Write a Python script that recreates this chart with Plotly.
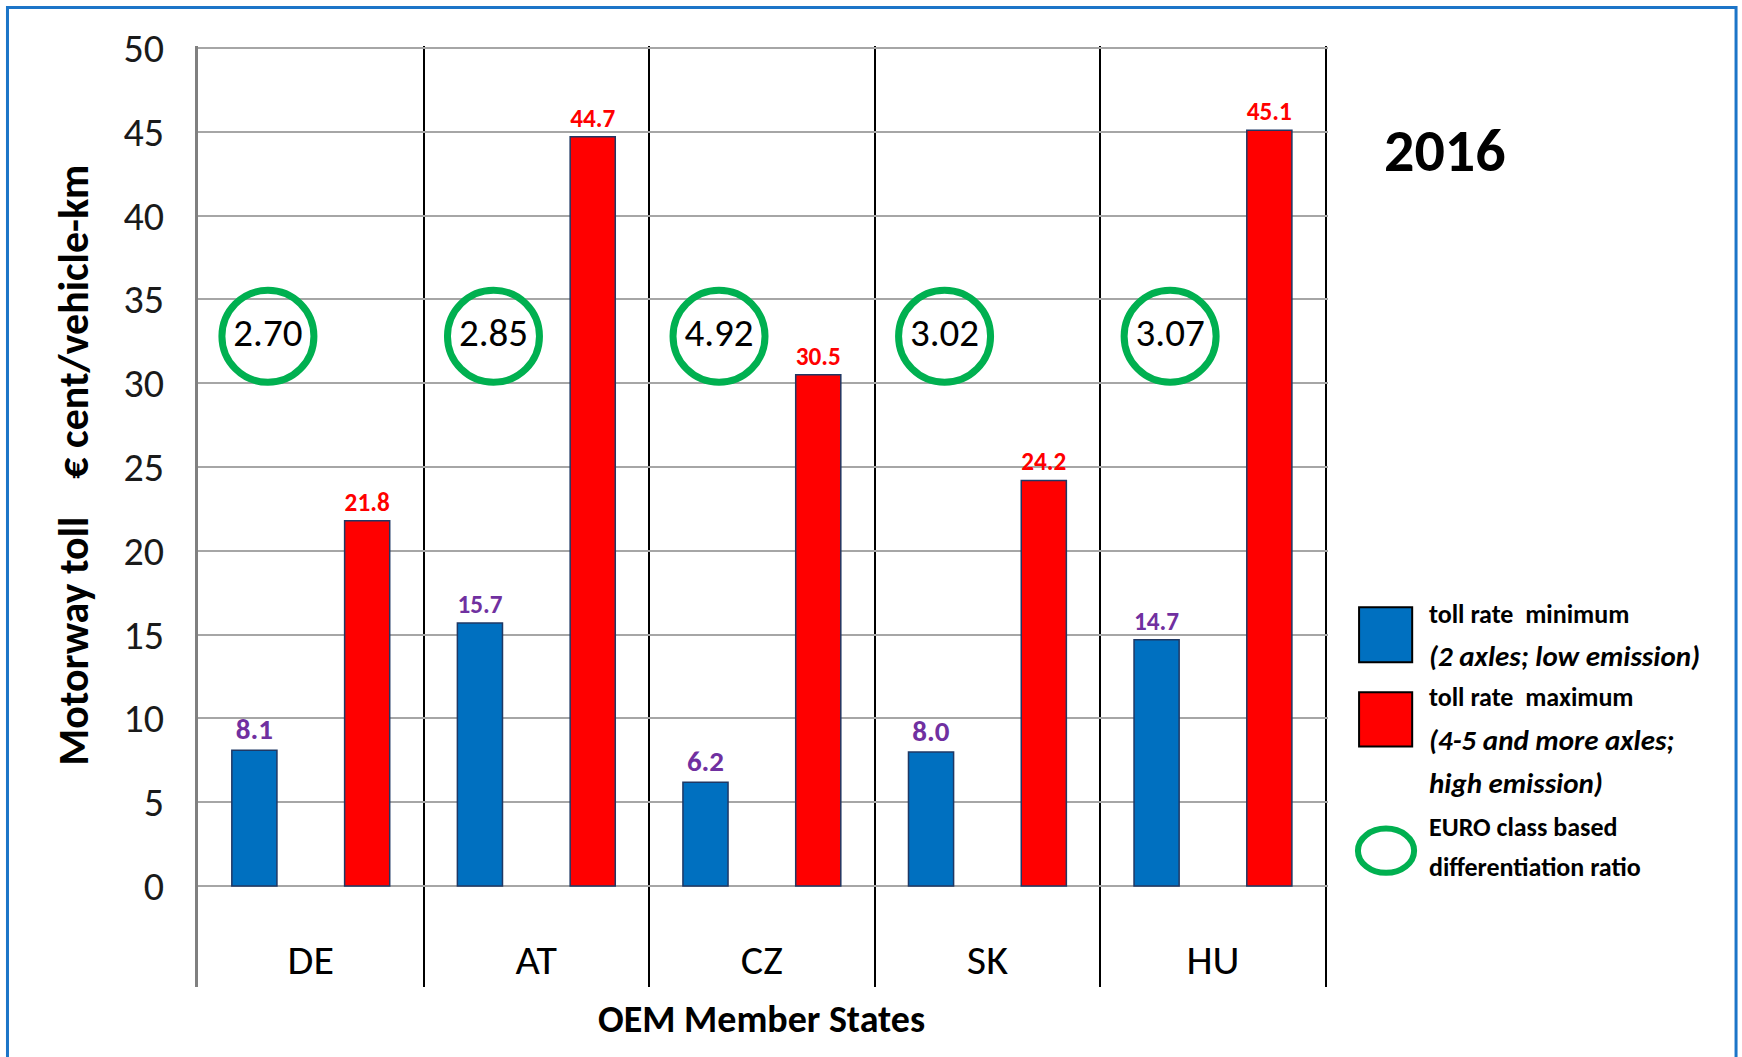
import plotly.graph_objects as go

# ---------------- data ----------------
categories = ["DE", "AT", "CZ", "SK", "HU"]
toll_min = [8.1, 15.7, 6.2, 8.0, 14.7]
toll_max = [21.8, 44.7, 30.5, 24.2, 45.1]
ratio_labels = ["2.70", "2.85", "4.92", "3.02", "3.07"]
y_ticks = [0, 5, 10, 15, 20, 25, 30, 35, 40, 45, 50]
year_label = "2016"
legend_lines = [
    "<b>toll rate  minimum</b>",
    "<b><i>(2 axles; low emission)</i></b>",
    "<b>toll rate  maximum</b>",
    "<b><i>(4-5 and more axles;</i></b>",
    "<b><i>high emission)</i></b>",
    "<b>EURO class based</b>",
    "<b>differentiation ratio</b>",
]

# ---------------- style ----------------
FONT = "Carlito, Calibri, Lato, 'Open Sans', sans-serif"
BLUE = "#0070C0"
RED = "#FF0000"
GREEN = "#00B050"
PURPLE = "#7030A0"
OUTLINE = "#1F3864"
RATIO_Y = 32.8          # vertical position of the ratio circles
RATIO_SHIFT = -0.19     # horizontal shift of the circles within a category

idx = list(range(len(categories)))

fig = go.Figure()
fig.add_trace(go.Bar(
    x=idx, y=toll_min, name="toll rate minimum",
    marker=dict(color=BLUE, line=dict(color=OUTLINE, width=1.5)),
    text=[f"{v:.1f}" for v in toll_min], textposition="outside",
    textfont=dict(family=FONT, size=29, color=PURPLE, weight="bold"),
    cliponaxis=False, showlegend=False,
))
fig.add_trace(go.Bar(
    x=idx, y=toll_max, name="toll rate maximum",
    marker=dict(color=RED, line=dict(color=OUTLINE, width=1.5)),
    text=[f"{v:.1f}" for v in toll_max], textposition="outside",
    textfont=dict(family=FONT, size=29, color=RED, weight="bold"),
    cliponaxis=False, showlegend=False,
))
fig.add_trace(go.Scatter(
    x=[i + RATIO_SHIFT for i in idx], y=[RATIO_Y] * len(idx),
    mode="markers+text", text=ratio_labels, textposition="middle center",
    textfont=dict(family=FONT, size=39, color="#000000"),
    marker=dict(symbol="circle-open", size=92, color=GREEN,
                line=dict(color=GREEN, width=7)),
    showlegend=False, hoverinfo="skip",
))

fig.update_layout(
    width=1742, height=1057,
    margin=dict(l=198, r=414, t=46, b=70),
    paper_bgcolor="white", plot_bgcolor="white",
    barmode="group", bargap=0.0, bargroupgap=0.6,
    font=dict(family=FONT, color="#000000"),
    xaxis=dict(
        range=[-0.5, len(categories) - 0.49],
        tickmode="array", tickvals=idx, ticktext=categories,
        ticklabelposition="inside", ticks="", ticklabelstandoff=2,
        tickfont=dict(family=FONT, size=42, color="#000000"),
        showgrid=False, zeroline=False, showline=False,
        minor=dict(tickmode="array",
                   tickvals=[i - 0.5 for i in range(len(categories) + 1)],
                   showgrid=True, gridcolor="#000000", gridwidth=1.5, ticks=""),
    ),
    yaxis=dict(
        range=[-6.02, 50.12],
        tickmode="array", tickvals=y_ticks,
        tickfont=dict(family=FONT, size=40, color="#1a1a1a"),
        ticklabelstandoff=23,
        showgrid=True, gridcolor="#A6A6A6", gridwidth=2,
        zeroline=False, showline=True, linecolor="#808080", linewidth=3,
    ),
)

fig.add_annotation(
    xref="paper", yref="paper", x=-0.11, y=0.555,
    xanchor="center", yanchor="middle",
    text="<b>Motorway toll    € cent/vehicle-km</b>", textangle=-90,
    showarrow=False, font=dict(family=FONT, size=42, color="#000000"),
)
fig.add_annotation(
    xref="paper", yref="paper", x=0.499, y=-0.034,
    xanchor="center", yanchor="middle",
    text="<b>OEM Member States</b>", showarrow=False,
    font=dict(family=FONT, size=38, color="#000000"),
)
fig.add_annotation(
    xref="paper", yref="paper", x=1.1037, y=0.889,
    xanchor="center", yanchor="middle",
    text=f"<b>{year_label}</b>", showarrow=False,
    font=dict(family=FONT, size=60, color="#000000"),
)

# custom legend
fig.add_shape(type="rect", xref="paper", yref="paper",
              x0=1.0275, x1=1.0745, y0=0.345, y1=0.4036,
              fillcolor=BLUE, line=dict(color="#000000", width=2))
fig.add_shape(type="rect", xref="paper", yref="paper",
              x0=1.0275, x1=1.0745, y0=0.2556, y1=0.3131,
              fillcolor=RED, line=dict(color="#000000", width=2))
fig.add_shape(type="circle", xref="paper", yref="paper",
              x0=1.0265, x1=1.0762, y0=0.1213, y1=0.1684,
              line=dict(color=GREEN, width=6))
legend_y = [0.3962, 0.3514, 0.3078, 0.2630, 0.2173, 0.1704, 0.1278]
for txt, yy in zip(legend_lines, legend_y):
    size = 29 if "<i>" in txt else 26
    fig.add_annotation(xref="paper", yref="paper", x=1.0878, y=yy,
                       xanchor="left", yanchor="middle", text=txt,
                       showarrow=False,
                       font=dict(family=FONT, size=size, color="#000000"))

# outer blue frame
fig.add_shape(type="rect", xref="paper", yref="paper",
              x0=-0.1686, x1=1.3611, y0=-0.08, y1=1.0409,
              line=dict(color="#1C75C8", width=3), layer="below")

fig.write_html("out.html", config={"displayModeBar": False},
               post_script="document.body.style.margin='0';")
